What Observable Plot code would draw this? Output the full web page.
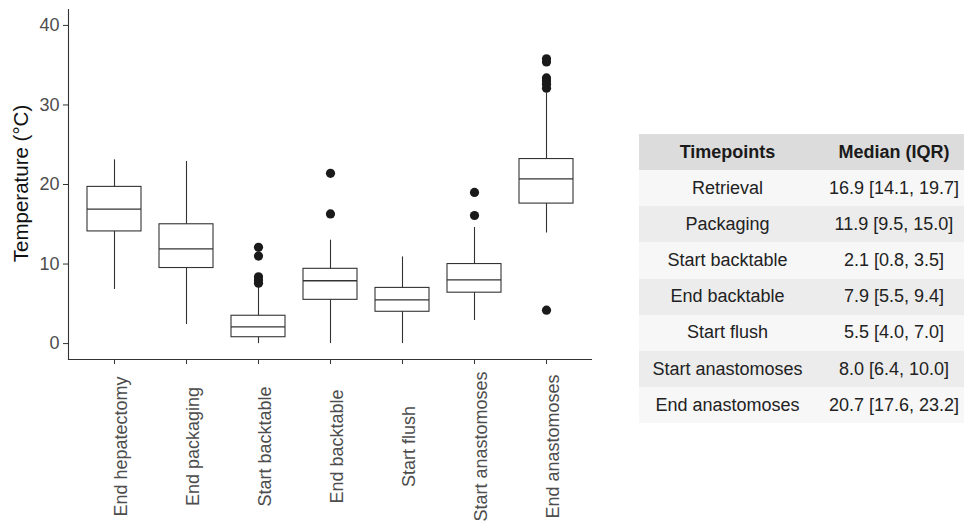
<!DOCTYPE html>
<html>
<head>
<meta charset="utf-8">
<script src="https://cdn.jsdelivr.net/npm/d3@7"></script>
<script src="https://cdn.jsdelivr.net/npm/@observablehq/plot@0.6"></script>
<style>
  html, body { margin: 0; padding: 0; background: #fff; }
  body { width: 964px; height: 523px; overflow: hidden; position: relative; font-family: "Liberation Sans", Arial, Helvetica, sans-serif; }
  #chart { position: absolute; left: 0; top: 0; }
  #tbl { position: absolute; left: 639px; top: 134px; width: 333px; table-layout: fixed; border-collapse: collapse; font-size: 18px; color: #222; }
  #tbl td, #tbl th { padding: 0; height: 36.2px; text-align: center; white-space: nowrap; overflow: visible; }
  #tbl th { background: #dcdcdc; font-weight: bold; color: #1a1a1a; height: 36px; }
  #tbl tr:nth-child(odd) td { background: #f7f7f7; }
  #tbl tr:nth-child(even) td { background: #ececec; }
</style>
</head>
<body>
<div id="chart"></div>
<table id="tbl"></table>
<script>
// ---- Box plot data ----
const categories = ["End hepatectomy", "End packaging", "Start backtable", "End backtable", "Start flush", "Start anastomoses", "End anastomoses"];
const q1 = [14.1, 9.5, 0.8, 5.5, 4.0, 6.4, 17.6];
const median = [16.9, 11.9, 2.1, 7.9, 5.5, 8.0, 20.7];
const q3 = [19.7, 15.0, 3.5, 9.4, 7.0, 10.0, 23.2];
const whiskerLow = [6.8, 2.4, 0.0, 0.0, 0.0, 2.9, 13.9];
const whiskerHigh = [23.1, 22.9, 7.4, 13.0, 10.9, 14.6, 31.5];
const outlierCategory = ["Start backtable", "Start backtable", "Start backtable", "Start backtable", "Start backtable",
  "End backtable", "End backtable", "Start anastomoses", "Start anastomoses",
  "End anastomoses", "End anastomoses", "End anastomoses", "End anastomoses", "End anastomoses", "End anastomoses", "End anastomoses"];
const outlierValue = [12.1, 11.0, 8.4, 8.0, 7.6,
  21.4, 16.3, 19.0, 16.1,
  35.8, 35.4, 33.4, 33.0, 32.6, 32.1, 4.2];
const yTicks = [0, 10, 20, 30, 40];
const yTitle = "Temperature (°C)";

// ---- Table data ----
const tableHeader = ["Timepoints", "Median (IQR)"];
const tableTimepoints = ["Retrieval", "Packaging", "Start backtable", "End backtable", "Start flush", "Start anastomoses", "End anastomoses"];
const tableMedianIQR = ["16.9 [14.1, 19.7]", "11.9 [9.5, 15.0]", "2.1 [0.8, 3.5]", "7.9 [5.5, 9.4]", "5.5 [4.0, 7.0]", "8.0 [6.4, 10.0]", "20.7 [17.6, 23.2]"];

const boxes = categories.map((c, i) => ({category: c, q1: q1[i], median: median[i], q3: q3[i], lo: whiskerLow[i], hi: whiskerHigh[i]}));
const outliers = outlierCategory.map((c, i) => ({category: c, value: outlierValue[i]}));

const ink = "#333333";
const chart = Plot.plot({
  width: 600,
  height: 523,
  marginTop: 9,
  marginBottom: 164,
  marginLeft: 68,
  marginRight: 9,
  style: {fontFamily: "'Liberation Sans', Arial, Helvetica, sans-serif", background: "white", overflow: "visible"},
  x: {type: "band", domain: categories, paddingInner: 0.25, paddingOuter: 0.22, axis: null},
  y: {domain: [-2, 42], axis: null},
  marks: [
    Plot.axisY({ticks: yTicks, tickSize: 5, tickPadding: 4, label: null, fontSize: 18, fill: "#4d4d4d", stroke: ink}),
    Plot.axisX({tickSize: 5, tickFormat: () => "", label: null, stroke: ink}),
    Plot.frame({anchor: "left", stroke: ink, strokeWidth: 1.1}),
    Plot.frame({anchor: "bottom", stroke: ink, strokeWidth: 1.1}),
    Plot.ruleX(boxes, {x: "category", y1: "lo", y2: "hi", stroke: ink, strokeWidth: 1.1}),
    Plot.barY(boxes, {x: "category", y1: "q1", y2: "q3", fill: "white", stroke: ink, strokeWidth: 1.1}),
    Plot.tickY(boxes, {x: "category", y: "median", stroke: ink, strokeWidth: 1.3}),
    Plot.dot(outliers, {x: "category", y: "value", r: 4.6, fill: "#1a1a1a", stroke: null}),
    Plot.text(categories, {x: d => d, text: d => d, frameAnchor: "bottom", rotate: -90, textAnchor: "middle", lineAnchor: "top", dy: 87, fontSize: 18, fill: "#4d4d4d"}),
    Plot.text([yTitle], {text: d => d, frameAnchor: "left", rotate: -90, textAnchor: "middle", lineAnchor: "bottom", dx: -41, dy: -1, fontSize: 20.5, fill: "#111"})
  ]
});
document.getElementById("chart").appendChild(chart);

// ---- Table ----
const tbl = d3.select("#tbl");
const colgroup = tbl.append("colgroup");
colgroup.append("col").style("width", "177px");
colgroup.append("col").style("width", "156px");
tbl.append("tr").selectAll("th").data(tableHeader).join("th").text(d => d);
tableTimepoints.forEach((t, i) => {
  const tr = tbl.append("tr");
  tr.append("td").text(t);
  tr.append("td").text(tableMedianIQR[i]);
});
</script>
</body>
</html>
